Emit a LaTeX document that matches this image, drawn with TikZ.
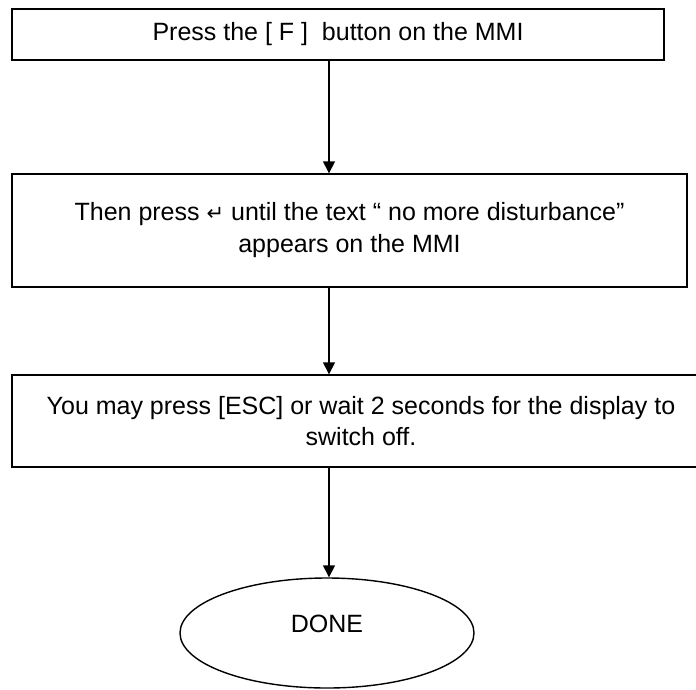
\documentclass[tikz,border=0pt]{standalone}
\usepackage{fontspec}
\setmainfont{Liberation Sans}
\newfontfamily\symfont{DejaVu Sans}
\usetikzlibrary{arrows.meta,shapes.geometric}
\begin{document}
\begin{tikzpicture}[x=1pt,y=-1pt,
  every node/.style={font=\fontsize{25}{31}\selectfont},
  stepbox/.style={draw,line width=1.4pt,rectangle,inner sep=0pt,align=center},
  flow/.style={draw,line width=1.4pt,-{Triangle[width=12pt,length=12pt]}},
  endcap/.style={draw,line width=1.4pt,ellipse,inner sep=0pt}]
\useasboundingbox (0,0) rectangle (696,689);
\clip (0,0) rectangle (696,689);
% process steps
\node[stepbox,minimum width=652pt,minimum height=51pt] (s1) at (338,34.5)
  {Press the [ F ]\ \ button on the MMI};
\node[stepbox,minimum width=675pt,minimum height=113pt] (s2) at (349.5,230.5)
  {Then press {\symfont\fontsize{21}{31}\selectfont ↵} until the text “ no more disturbance”\\[1pt] appears on the MMI};
\node[stepbox,minimum width=698pt,minimum height=92pt] (s3) at (361,421)
  {You may press [ESC] or wait 2 seconds for the display to\\ switch off.};
% terminator
\node[endcap,minimum width=294pt,minimum height=110pt,
  label={[yshift=9pt]center:DONE}] (done) at (327,633) {};
% connectors
\path[flow] (s1.south -| 329,0) -- (s2.north -| 329,0);
\path[flow] (s2.south -| 329,0) -- (s3.north -| 329,0);
\path[flow] (s3.south -| 329,0) -- (done.north -| 329,0);
\end{tikzpicture}
\end{document}
